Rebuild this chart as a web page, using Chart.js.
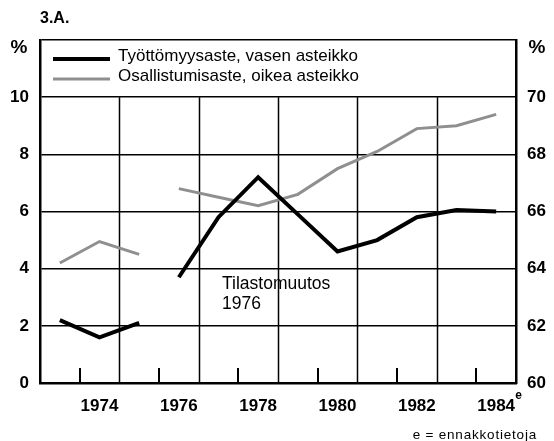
<!DOCTYPE html>
<html>
<head>
<meta charset="utf-8">
<script src="https://cdn.jsdelivr.net/npm/chart.js@4/dist/chart.umd.min.js"></script>
<style>
  html, body { margin: 0; padding: 0; background: #fff; }
  canvas { display: block; }
</style>
</head>
<body>
<canvas id="chart" width="554" height="441"></canvas>
<script>
// data
var years = [1973, 1974, 1975, 1976, 1977, 1978, 1979, 1980, 1981, 1982, 1983, 1984];
var unemployment = [2.2, 1.6, 2.1, 3.7, 5.8, 7.2, 5.9, 4.6, 5.0, 5.8, 6.05, 6.0];
var participation = [64.2, 64.95, 64.5, 66.8, 66.5, 66.2, 66.6, 67.5, 68.1, 68.9, 69.0, 69.4];
var yearLabels = [1974, 1976, 1978, 1980, 1982, 1984];
var leftTicks = [0, 2, 4, 6, 8, 10];
var rightTicks = [60, 62, 64, 66, 68, 70];
var seriesNames = ['Työttömyysaste, vasen asteikko', 'Osallistumisaste, oikea asteikko'];
var breakAfter = 1975; // Tilastomuutos 1976
var fam = "'Liberation Sans', Arial, sans-serif";

Chart.defaults.font.family = fam;
Chart.defaults.color = '#000';

function pts(vals) {
  return years.map(function (y, i) { return { x: y, y: vals[i] }; });
}
var gapSeg = {
  borderColor: function (ctx) { return ctx.p0.parsed.x === breakAfter ? 'rgba(0,0,0,0)' : undefined; }
};

var extras = {
  id: 'extras',
  beforeDatasetsDraw: function (chart) {
    var c = chart.ctx, xs = chart.scales.x, ys = chart.scales.y;
    var y0 = ys.getPixelForValue(0), y10 = ys.getPixelForValue(10);
    c.save();
    c.strokeStyle = '#000';
    c.lineWidth = 1.5;
    for (var v = 1974.5; v < 1984; v += 2) {
      var px = Math.round(xs.getPixelForValue(v)) + 0.5;
      c.beginPath(); c.moveTo(px, y0); c.lineTo(px, y10); c.stroke();
    }
    c.lineWidth = 2;
    for (var w = 1973.5; w < 1984.5; w += 2) {
      var qx = Math.round(xs.getPixelForValue(w));
      c.beginPath(); c.moveTo(qx, y0); c.lineTo(qx, y0 - 15); c.stroke();
    }
    c.restore();
  },
  afterDraw: function (chart) {
    var c = chart.ctx, xs = chart.scales.x;
    var ds = chart.data.datasets;
    c.save();
    c.fillStyle = '#000';
    // legend
    var ly = [59, 79];
    for (var i = 0; i < 2; i++) {
      c.strokeStyle = ds[i].borderColor;
      c.lineWidth = ds[i].borderWidth;
      c.beginPath(); c.moveTo(53, ly[i]); c.lineTo(110, ly[i]); c.stroke();
      c.font = '17px ' + fam;
      c.textBaseline = 'middle';
      c.textAlign = 'left';
      c.fillText(seriesNames[i], 118, ly[i] - 3);
    }
    // titles and notes
    c.font = 'bold 16px ' + fam;
    c.textBaseline = 'middle';
    c.fillText('3.A.', 40, 19);
    c.font = 'bold 19px ' + fam;
    c.textAlign = 'center';
    c.fillText('%', 19, 48);
    c.fillText('%', 537, 48);
    c.font = '17.5px ' + fam;
    c.textAlign = 'left';
    c.fillText('Tilastomuutos', 222, 284);
    c.fillText('1976', 222, 304);
    c.font = 'bold 12px ' + fam;
    c.fillText('e', xs.getPixelForValue(1984) + 19, 396);
    c.font = '13.5px ' + fam;
    c.letterSpacing = '0.8px';
    c.textAlign = 'right';
    c.fillText('e = ennakkotietoja', 537, 435);
    c.restore();
  }
};

new Chart('chart', {
  type: 'line',
  data: {
    datasets: [{
      label: seriesNames[0],
      data: pts(unemployment),
      yAxisID: 'y',
      borderColor: '#000',
      borderWidth: 4,
      pointRadius: 0,
      tension: 0,
      segment: gapSeg
    }, {
      label: seriesNames[1],
      data: pts(participation),
      yAxisID: 'y1',
      borderColor: '#8f8f8f',
      borderWidth: 3,
      pointRadius: 0,
      tension: 0,
      segment: gapSeg
    }]
  },
  options: {
    responsive: false,
    animation: false,
    devicePixelRatio: 1,
    layout: { padding: { top: 40, left: 0, right: 0, bottom: 0 } },
    plugins: { legend: { display: false }, tooltip: { enabled: false } },
    scales: {
      x: {
        type: 'linear',
        min: 1972.5,
        max: 1984.5,
        afterBuildTicks: function (s) { s.ticks = yearLabels.map(function (v) { return { value: v }; }); },
        afterFit: function (s) { s.height = 58; },
        grid: { display: false, drawTicks: false },
        border: { display: true, color: '#000', width: 2.5 },
        ticks: {
          autoSkip: false, maxRotation: 0, padding: 13,
          font: { size: 17, weight: 'bold' },
          callback: function (v) { return String(v); }
        }
      },
      y: {
        position: 'left',
        min: 0,
        max: 12,
        afterBuildTicks: function (s) { s.ticks = leftTicks.concat([12]).map(function (v) { return { value: v }; }); },
        afterFit: function (s) { s.width = 40; },
        grid: { color: '#000', lineWidth: 1.5, drawTicks: false },
        border: { display: true, color: '#000', width: 2.5 },
        ticks: {
          padding: 11,
          font: { size: 17, weight: 'bold' },
          callback: function (v) { return v > 10 ? '' : String(v); }
        }
      },
      y1: {
        position: 'right',
        min: 60,
        max: 72,
        afterBuildTicks: function (s) { s.ticks = rightTicks.map(function (v) { return { value: v }; }); },
        afterFit: function (s) { s.width = 38; },
        grid: { display: false, drawTicks: false },
        border: { display: true, color: '#000', width: 2.5 },
        ticks: {
          padding: 11,
          font: { size: 17, weight: 'bold' },
          callback: function (v) { return String(v); }
        }
      }
    }
  },
  plugins: [extras]
});
</script>
</body>
</html>
